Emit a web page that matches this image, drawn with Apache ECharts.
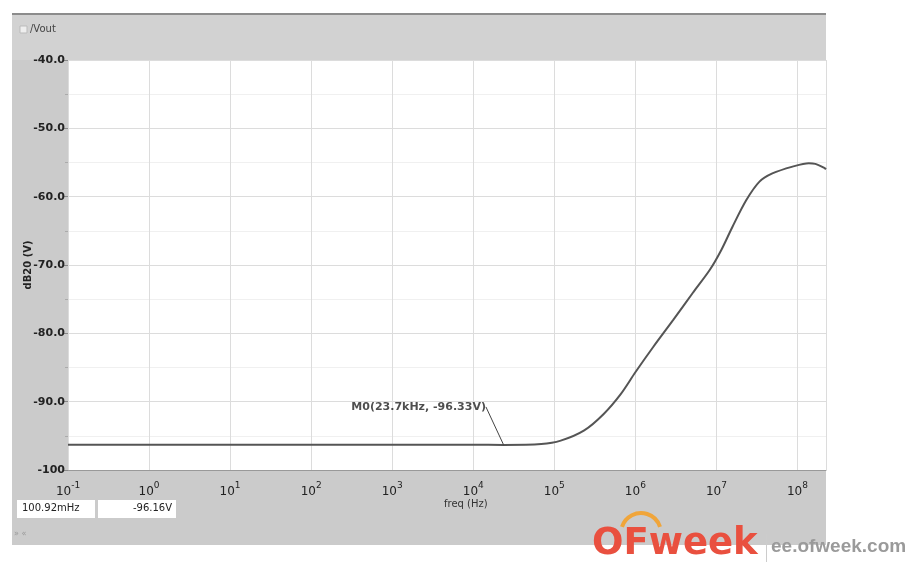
<!DOCTYPE html>
<html>
<head>
<meta charset="utf-8">
<script src="https://cdn.jsdelivr.net/npm/echarts@6/dist/echarts.min.js"></script>
<style>html,body{margin:0;padding:0;background:#fff;}#c{width:918px;height:564px;}</style>
</head>
<body>
<div id="c"></div>
<script>
// Frequency (Hz) and magnitude (dB20, V)
const freqHz = [0.1, 1, 10, 100, 1000, 1e4, 2.37e4, 6.9e4, 1.2e5, 2.34e5, 4.07e5, 6.6e5, 1e6, 1.66e6, 2.95e6,
  5.1e6, 8.3e6, 1.15e7, 1.58e7, 2.34e7, 3.4e7, 4.9e7, 8.7e7, 1.38e8, 1.66e8, 2.14e8, 2.25e8];
const vout = [-96.3, -96.3, -96.3, -96.3, -96.3, -96.3, -96.33, -96.2, -95.7, -94.2, -91.8, -88.9, -85.7, -82.0, -78.0,
  -74.1, -70.7, -67.8, -64.4, -60.5, -57.8, -56.6, -55.6, -55.1, -55.2, -55.8, -56.0];
const markerPoint = [2.37e4, -96.33];
const markerText = 'M0(23.7kHz, -96.33V)';
const yTicks = [-100, -90, -80, -70, -60, -50, -40];
const seriesName = '/Vout';
const cursorFreq = '100.92mHz';
const cursorVal = '-96.16V';

const chart = echarts.init(document.getElementById('c'));
const lineData = freqHz.map((f, i) => [f, vout[i]]);
const FONT = 'DejaVu Sans';

chart.setOption({
  backgroundColor: '#fff',
  animation: false,
  grid: { left: 68, top: 60, right: 92, bottom: 94, show: true, backgroundColor: '#fff', borderWidth: 0 },
  xAxis: {
    type: 'log', logBase: 10, min: 0.1, max: 2.25e8, splitNumber: 10,
    axisLine: { show: true, lineStyle: { color: '#999', width: 1 } },
    axisTick: { show: false },
    splitLine: { show: true, lineStyle: { color: '#dcdcdc', width: 1 } },
    axisLabel: {
      margin: 10, color: '#222', fontFamily: FONT,
      showMaxLabel: false,
      formatter: function (v) {
        const e = Math.log10(v); const r = Math.round(e);
        if (Math.abs(e - r) > 1e-6) return '';
        return '{b|10}{s|' + r + '}';
      },
      rich: {
        b: { fontSize: 12, fontFamily: FONT, color: '#222', padding: [6, 0, 0, 0] },
        s: { fontSize: 9, fontFamily: FONT, color: '#222', padding: [0, 0, 6, 0] }
      }
    }
  },
  yAxis: {
    type: 'value', min: yTicks[0], max: yTicks[yTicks.length - 1], interval: 10,
    name: 'dB20 (V)', nameLocation: 'middle', nameGap: 35, nameRotate: 90, nameMoveOverlap: false,
    nameTextStyle: { fontFamily: FONT, fontSize: 10, color: '#222', fontWeight: 'bold' },
    axisLine: { show: false },
    axisTick: { show: true, length: 4, lineStyle: { color: '#888' } },
    minorTick: { show: true, splitNumber: 2, length: 3, lineStyle: { color: '#aaa' } },
    splitLine: { show: true, lineStyle: { color: '#dcdcdc', width: 1 } },
    minorSplitLine: { show: true, lineStyle: { color: '#f0f0f0', width: 1 } },
    axisLabel: {
      margin: 3, color: '#222', fontFamily: FONT, fontSize: 11, fontWeight: 'bold',
      formatter: v => (v === -100 ? '-100' : v.toFixed(1))
    }
  },
  series: [
    {
      name: seriesName, type: 'line', data: lineData, showSymbol: false, smooth: 0.3,
      lineStyle: { color: '#555', width: 2 }, z: 3
    },
    {
      type: 'scatter', data: [markerPoint], symbolSize: 1, itemStyle: { color: '#444' },
      label: {
        show: true, position: 'top', formatter: markerText,
        fontFamily: FONT, fontSize: 11, color: '#222', fontWeight: 'bold'
      },
      labelLayout: { dx: -85, dy: -27 },
      labelLine: { show: true, lineStyle: { color: '#444', width: 1 } },
      z: 4
    }
  ],
  graphic: [
    { type: 'rect', z: -10, shape: { x: 12, y: 13, width: 814, height: 532 }, style: { fill: '#cbcbcb' } },
    { type: 'rect', z: -9, shape: { x: 12, y: 13, width: 814, height: 2 }, style: { fill: '#8c8c8c' } },
    { type: 'rect', z: -9, shape: { x: 12, y: 15, width: 814, height: 45 }, style: { fill: '#d2d2d2' } },
    { type: 'rect', z: -8, shape: { x: 20, y: 26, width: 7, height: 7 }, style: { fill: '#eee', stroke: '#bbb' } },
    { type: 'text', z: 10, left: 30, top: 24, style: { text: seriesName, fontFamily: FONT, fontSize: 10, fill: '#444' } },
    { type: 'text', z: 10, left: 444, top: 499, style: { text: 'freq (Hz)', fontFamily: FONT, fontSize: 10, fill: '#333' } },
    { type: 'rect', z: 5, shape: { x: 17, y: 500, width: 78, height: 18 }, style: { fill: '#fff' } },
    { type: 'rect', z: 5, shape: { x: 98, y: 500, width: 78, height: 18 }, style: { fill: '#fff' } },
    { type: 'text', z: 10, left: 22, top: 503, style: { text: cursorFreq, fontFamily: FONT, fontSize: 10, fill: '#222' } },
    { type: 'text', z: 10, right: 918 - 172, top: 503, style: { text: cursorVal, fontFamily: FONT, fontSize: 10, fill: '#222' } },
    { type: 'text', z: 10, left: 14, top: 530, style: { text: '» «', fontFamily: FONT, fontSize: 8, fill: '#999' } },
    { type: 'arc', z: 10, shape: { cx: 641, cy: 533, r: 20, startAngle: Math.PI * 1.1, endAngle: Math.PI * 1.9, clockwise: true }, style: { stroke: '#f0a53a', lineWidth: 4, fill: null } },
    { type: 'text', z: 11, left: 592, top: 526, style: { text: 'OFweek', fontFamily: 'DejaVu Sans', fontWeight: 'bold', fontSize: 37, fill: '#e9503f' } },
    { type: 'rect', z: 11, shape: { x: 766, y: 534, width: 1, height: 28 }, style: { fill: '#ccc' } },
    { type: 'text', z: 11, left: 771, top: 537, style: { text: 'ee.ofweek.com', fontFamily: 'Liberation Sans', fontWeight: 'bold', fontSize: 19, fill: '#9a9a9a' } }
  ]
});
</script>
</body>
</html>
